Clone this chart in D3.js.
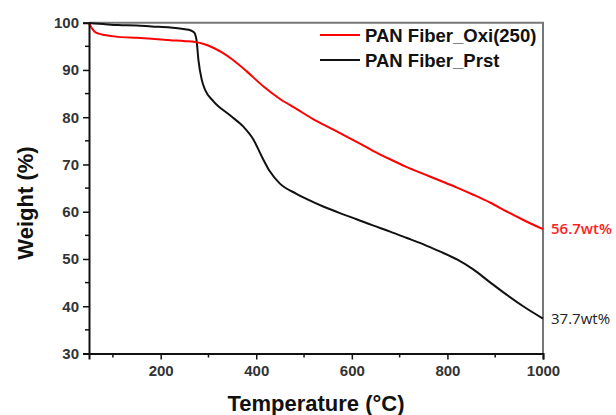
<!DOCTYPE html>
<html>
<head>
<meta charset="utf-8">
<script src="https://cdn.jsdelivr.net/npm/d3@7"></script>
<style>
  body { margin: 0; background: #fff; }
  svg { display: block; }
</style>
</head>
<body>
<script>
// temperatures (°C) and weight (%)
var oxiTemp = [50, 55, 62, 70, 83, 111, 150, 181, 220, 251, 272, 290, 310, 330, 350, 380, 414, 449, 485, 519, 555, 589, 617, 644, 680, 714, 750, 784, 820, 854, 890, 923, 960, 1000];
var oxiWeight = [99.9, 99.0, 98.1, 97.7, 97.4, 97.0, 96.8, 96.6, 96.3, 96.1, 95.9, 95.5, 94.7, 93.6, 92.2, 89.7, 86.6, 83.9, 81.7, 79.6, 77.7, 75.9, 74.4, 72.9, 71.1, 69.5, 68.0, 66.6, 65.1, 63.6, 61.9, 60.1, 58.2, 56.3];

var prstTemp = [50, 80, 111, 150, 181, 220, 251, 262, 268, 272, 275, 279, 286, 293, 310, 345, 373, 394, 411, 428, 449, 484, 505, 540, 575, 610, 644, 680, 714, 750, 784, 820, 854, 890, 923, 960, 1000];
var prstWeight = [99.9, 99.7, 99.5, 99.4, 99.2, 99.0, 98.6, 98.4, 98.1, 97.6, 96.3, 92.1, 87.9, 85.8, 83.4, 80.4, 78.0, 75.3, 71.8, 68.6, 66.0, 63.8, 62.7, 61.1, 59.7, 58.4, 57.1, 55.8, 54.5, 53.1, 51.6, 49.9, 47.8, 45.0, 42.5, 39.9, 37.4];

var seriesNames = ['PAN Fiber_Oxi(250)', 'PAN Fiber_Prst'];
var seriesColors = ['#ff0000', '#111111'];
var endLabels = ['56.7wt%', '37.7wt%'];

var xTicks = [200, 400, 600, 800, 1000];
var xMinor = [100, 300, 500, 700, 900];
var yTicks = [30, 40, 50, 60, 70, 80, 90, 100];
var yMinor = [35, 45, 55, 65, 75, 85, 95];

var width = 616, height = 415;
var margin = {top: 22.7, right: 73, bottom: 61.5, left: 89};

var svg = d3.select('body').append('svg')
    .attr('width', width)
    .attr('height', height);

var x = d3.scaleLinear()
    .domain([50, 1000])
    .range([margin.left, width - margin.right]);

var y = d3.scaleLinear()
    .domain([30, 100])
    .range([height - margin.bottom, margin.top]);

var tickFont = 'Arial, "Liberation Sans", sans-serif';

// top and right frame
svg.append('path')
    .attr('d', 'M' + x(50) + ',' + y(100) + 'H' + x(1000) + 'V' + y(30))
    .attr('fill', 'none')
    .attr('stroke', '#777')
    .attr('stroke-width', 2);

// lines
var line = d3.line()
    .x(function(d) { return x(d[0]); })
    .y(function(d) { return y(d[1]); })
    .curve(d3.curveMonotoneX);

var series = [
    d3.zip(oxiTemp, oxiWeight),
    d3.zip(prstTemp, prstWeight)
];

svg.selectAll('.curve')
    .data([1, 0])
    .enter().append('path')
    .attr('class', 'curve')
    .attr('d', function(i) { return line(series[i]); })
    .attr('fill', 'none')
    .attr('stroke', function(i) { return seriesColors[i]; })
    .attr('stroke-width', 2);

// axes
var xAxis = svg.append('g')
    .attr('transform', 'translate(0,' + y(30) + ')')
    .call(d3.axisBottom(x).tickValues(xTicks).tickFormat(d3.format('d')).tickSize(6).tickPadding(6));

xAxis.selectAll('.minor')
    .data(xMinor)
    .enter().append('line')
    .attr('class', 'minor')
    .attr('x1', function(d) { return x(d); })
    .attr('x2', function(d) { return x(d); })
    .attr('y2', 4)
    .attr('stroke', '#111')
    .attr('stroke-width', 1.5);

var yAxis = svg.append('g')
    .attr('transform', 'translate(' + x(50) + ',0)')
    .call(d3.axisLeft(y).tickValues(yTicks).tickSize(6).tickPadding(4));

yAxis.selectAll('.minor')
    .data(yMinor)
    .enter().append('line')
    .attr('class', 'minor')
    .attr('y1', function(d) { return y(d); })
    .attr('y2', function(d) { return y(d); })
    .attr('x2', -4)
    .attr('stroke', '#111')
    .attr('stroke-width', 1.5);

[xAxis, yAxis].forEach(function(g) {
    g.select('.domain').attr('stroke', '#111').attr('stroke-width', 2);
    g.selectAll('.tick line').attr('stroke', '#111').attr('stroke-width', 1.5);
    g.selectAll('.tick text')
        .attr('fill', '#333')
        .style('font-family', tickFont)
        .style('font-weight', 'bold')
        .style('font-size', '15px');
});

// axis titles
svg.append('text')
    .attr('x', (x(50) + x(1000)) / 2)
    .attr('y', 411)
    .attr('text-anchor', 'middle')
    .style('font-family', tickFont)
    .style('font-weight', 'bold')
    .style('font-size', '22px')
    .attr('fill', '#111')
    .text('Temperature (°C)');

svg.append('text')
    .attr('transform', 'translate(33,203) rotate(-90)')
    .attr('text-anchor', 'middle')
    .style('font-family', tickFont)
    .style('font-weight', 'bold')
    .style('font-size', '22px')
    .attr('fill', '#111')
    .text('Weight (%)');

// legend
var legend = svg.selectAll('g.legend')
    .data(seriesNames)
    .enter().append('g')
    .attr('class', 'legend')
    .attr('transform', function(d, i) { return 'translate(320,' + (35 + i * 25) + ')'; });

legend.append('line')
    .attr('x2', 40)
    .attr('stroke', function(d, i) { return seriesColors[i]; })
    .attr('stroke-width', 2);

legend.append('text')
    .attr('x', 45)
    .attr('y', 6.5)
    .style('font-family', tickFont)
    .style('font-weight', 'bold')
    .style('font-size', '18.5px')
    .attr('fill', '#111')
    .text(function(d) { return d; });

// end labels
svg.selectAll('.end-label')
    .data(endLabels)
    .enter().append('text')
    .attr('class', 'end-label')
    .attr('x', x(1000) + 8)
    .attr('y', function(d, i) { return (i === 0 ? y(56.3) : y(37.4)) + 5; })
    .style('font-family', '"Open Sans", sans-serif')
    .style('font-weight', function(d, i) { return i === 0 ? 600 : 400; })
    .style('font-size', '15px')
    .attr('fill', function(d, i) { return i === 0 ? '#ff2222' : '#222'; })
    .text(function(d) { return d; });
</script>
</body>
</html>
